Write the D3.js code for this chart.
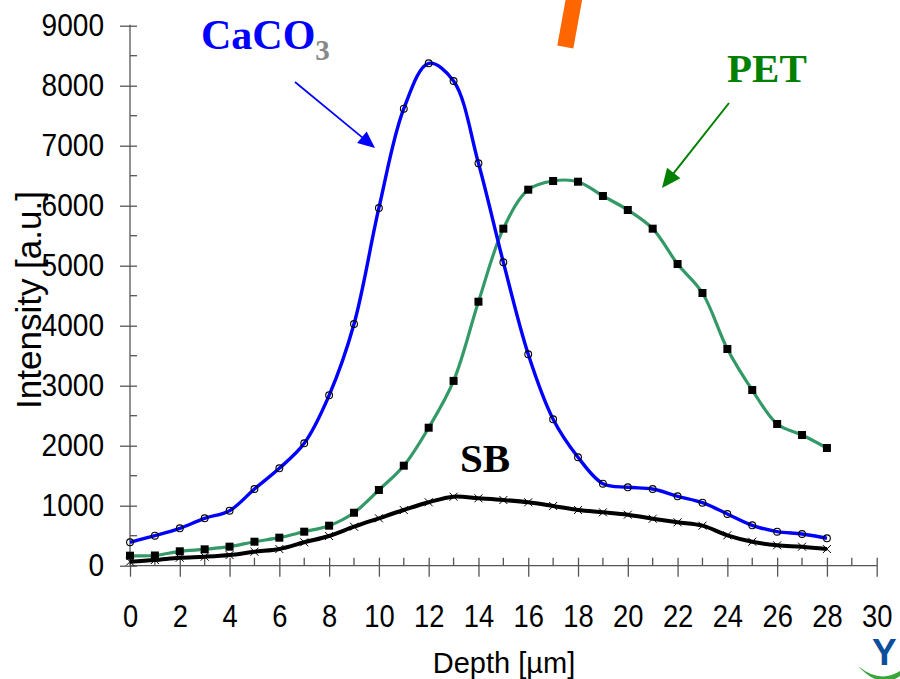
<!DOCTYPE html>
<html><head><meta charset="utf-8">
<script src="https://cdn.jsdelivr.net/npm/d3@7"></script>
<style>body{margin:0;background:#fff}svg{display:block}</style>
</head><body>
<svg id="c" width="900" height="679"></svg>
<script>
// ---- data ----
const depth = [0,1,2,3,4,5,6,7,8,9,10,11,12,13,14,15,16,17,18,19,20,21,22,23,24,25,26,27,28];
const caco3 = [390,500,623,790,917,1278,1623,2040,2840,4028,5962,7617,8373,8078,6707,5057,3523,2440,1807,1367,1307,1278,1157,1050,862,673,567,528,457];
const pet   = [167,170,240,273,317,400,467,567,667,883,1262,1667,2300,3080,4400,5617,6267,6412,6400,6162,5928,5617,5028,4545,3612,2928,2362,2178,1962];
const sb    = [67,95,133,150,178,233,278,390,495,650,790,928,1057,1150,1123,1095,1057,995,928,890,850,783,723,667,507,400,340,317,278];
const xTicks = [0,2,4,6,8,10,12,14,16,18,20,22,24,26,28,30];
const xMinor = [1,3,5,7,9,11,13,15,17,19,21,23,25,27,29];
const yTicks = [0,1000,2000,3000,4000,5000,6000,7000,8000,9000];
const yMinor = [500,1500,2500,3500,4500,5500,6500,7500,8500];
const xTitle = "Depth [µm]";
const yTitle = "Intensity [a.u.]";

const svg = d3.select("#c");
svg.append("rect").attr("width",900).attr("height",679).attr("fill","#fff");

const x = d3.scaleLinear().domain([0,30]).range([130,876.7]);
const y = d3.scaleLinear().domain([0,9000]).range([565.7,25.7]);

const axisColor = "#555";
const tickFont = "'Liberation Sans',Arial,sans-serif";
const fmt = d3.format("d");

// orange bar (decoration)
svg.append("line").attr("x1",565.3).attr("y1",47).attr("x2",576).attr("y2",-12)
  .attr("stroke","#ff6600").attr("stroke-width",16.3);

// Y axis
const gy = svg.append("g").attr("transform",`translate(${x(0)},0)`)
  .call(d3.axisLeft(y).tickValues(yTicks).tickSize(10).tickPadding(16).tickFormat(fmt));
gy.select(".domain").remove();
gy.selectAll(".tick line").attr("x1",7).attr("x2",-10).attr("stroke",axisColor).attr("stroke-width",1.3);
gy.selectAll(".tick text").attr("font-family",tickFont).attr("font-size",32).attr("fill","#000")
  .attr("textLength",d=>fmt(d).length*15.6).attr("lengthAdjust","spacingAndGlyphs");
gy.append("line").attr("x1",0).attr("x2",0).attr("y1",y(0)).attr("y2",y(9000)-1).attr("stroke",axisColor).attr("stroke-width",1.3);
gy.selectAll(".minor").data(yMinor).join("line").attr("class","minor")
  .attr("x1",0).attr("x2",7).attr("y1",d=>y(d)).attr("y2",d=>y(d)).attr("stroke",axisColor).attr("stroke-width",1.3);

// X axis
const gx = svg.append("g").attr("transform",`translate(0,${y(0)})`)
  .call(d3.axisBottom(x).tickValues(xTicks).tickSize(11).tickPadding(28).tickFormat(fmt));
gx.select(".domain").remove();
gx.selectAll(".tick line").attr("y1",-8).attr("y2",11).attr("stroke",axisColor).attr("stroke-width",1.3);
gx.selectAll(".tick text").attr("font-family",tickFont).attr("font-size",31).attr("fill","#000")
  .attr("textLength",d=>fmt(d).length*15.2).attr("lengthAdjust","spacingAndGlyphs");
gx.append("line").attr("x1",x(0)).attr("x2",x(30)).attr("y1",0).attr("y2",0).attr("stroke",axisColor).attr("stroke-width",1.3);
gx.selectAll(".minor").data(xMinor).join("line").attr("class","minor")
  .attr("y1",0).attr("y2",-8).attr("x1",d=>x(d)).attr("x2",d=>x(d)).attr("stroke",axisColor).attr("stroke-width",1.3);

// titles
svg.append("text").attr("x",504).attr("y",673).attr("text-anchor","middle")
  .attr("font-family","'Liberation Sans',Arial,sans-serif").attr("font-size",29).attr("fill","#000").text(xTitle);
svg.append("text").attr("transform","translate(41,300) rotate(-90)").attr("text-anchor","middle")
  .attr("font-family","'Liberation Sans',Arial,sans-serif").attr("font-size",35).attr("fill","#000").text(yTitle);

// lines
const line = d3.line().x((d,i)=>x(depth[i])).y(d=>y(d)).curve(d3.curveCatmullRom.alpha(0.5));
svg.append("path").attr("d",line(pet)).attr("fill","none").attr("stroke","#339966").attr("stroke-width",3.2);
svg.append("path").attr("d",line(sb)).attr("fill","none").attr("stroke","#000").attr("stroke-width",4);
svg.append("path").attr("d",line(caco3)).attr("fill","none").attr("stroke","#0000ff").attr("stroke-width",3.4);

// markers
svg.append("g").selectAll("rect").data(pet).join("rect")
  .attr("x",(d,i)=>x(depth[i])-4).attr("y",d=>y(d)-4).attr("width",8).attr("height",8).attr("fill","#000");
svg.append("g").selectAll("path").data(sb).join("path")
  .attr("d",(d,i)=>{const cx=x(depth[i]),cy=y(d),s=4;return `M${cx-s},${cy-s}L${cx+s},${cy+s}M${cx-s},${cy+s}L${cx+s},${cy-s}`;})
  .attr("stroke","#000").attr("stroke-width",1);
svg.append("g").selectAll("circle").data(caco3).join("circle")
  .attr("cx",(d,i)=>x(depth[i])).attr("cy",d=>y(d)).attr("r",3.4).attr("fill","none").attr("stroke","#000").attr("stroke-width",1.1);

// annotations
const serif = "'Liberation Serif','Times New Roman',serif";
const ca = svg.append("text").attr("x",201).attr("y",49).attr("font-family",serif).attr("font-weight","bold").attr("font-size",42).attr("fill","#0000ff");
ca.append("tspan").text("CaCO");
ca.append("tspan").attr("font-size",29).attr("fill","#888").attr("dx",0).attr("dy",11).text("3");
svg.append("text").attr("x",727).attr("y",82).attr("font-family",serif).attr("font-weight","bold").attr("font-size",41).attr("fill","#008000").text("PET");
svg.append("text").attr("x",460).attr("y",472).attr("font-family",serif).attr("font-weight","bold").attr("font-size",41).attr("fill","#000").text("SB");

function arrow(x1,y1,x2,y2,color,w,hl,hw){
  const dx=x2-x1, dy=y2-y1, L=Math.hypot(dx,dy), ux=dx/L, uy=dy/L;
  const bx=x2-ux*hl, by=y2-uy*hl;
  svg.append("line").attr("x1",x1).attr("y1",y1).attr("x2",bx+ux*2).attr("y2",by+uy*2).attr("stroke",color).attr("stroke-width",w);
  svg.append("path").attr("d",`M${x2},${y2}L${bx-uy*hw},${by+ux*hw}L${bx+uy*hw},${by-ux*hw}Z`).attr("fill",color);
}
arrow(295,82,375,148,"#0000ff",1.7,17,7.5);
arrow(729,103,662,188,"#008000",2,19,8.5);

// logo fragment bottom-right
svg.append("text").attr("x",872).attr("y",665).attr("font-family","'Liberation Sans',Arial,sans-serif").attr("font-weight","bold").attr("font-size",37).attr("fill","#0b4f9c").text("Y");
svg.append("path").attr("d","M858,666 Q880,684 900,671 L900,676 Q880,690 858,666 Z").attr("fill","#3aa53a");
</script>
</body></html>
